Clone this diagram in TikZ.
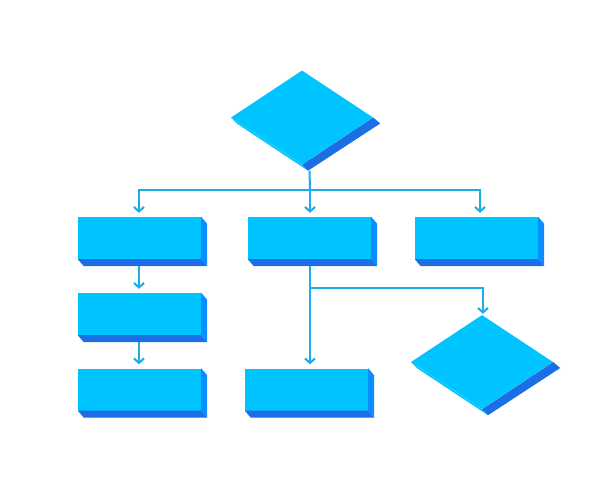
\documentclass[tikz,border=0pt]{standalone}
\usetikzlibrary{shapes.geometric,arrows.meta,calc}
\definecolor{topc}{HTML}{00C4FF}
\definecolor{sidec}{HTML}{0A8EFF}
\definecolor{botc}{HTML}{1C6EE4}
\definecolor{linec}{HTML}{19ACE6}
\begin{document}
\begin{tikzpicture}[x=1pt,y=-1pt,
  boxnode/.style={rectangle,fill=topc,draw=none,inner sep=0pt,minimum width=123pt,minimum height=42pt},
  decision/.style={diamond,fill=topc,draw=none,inner sep=0pt,aspect=1.5,minimum width=142pt,minimum height=94pt},
  conn/.style={draw=linec,line width=2pt},
  arr/.style={conn,-{Straight Barb[length=4.5pt,width=10pt]},shorten >=4pt}]
\useasboundingbox (0,0) rectangle (612,496);
\fill[white] (0,0) rectangle (612,496);
% nodes
\node[decision] (d1) at (302,117.5) {};
\node[decision] (d2) at (482,362) {};
\node[boxnode] (a1) at (139.5,238) {};
\node[boxnode] (b1) at (309.5,238) {};
\node[boxnode] (c1) at (476.5,238) {};
\node[boxnode] (a2) at (139.5,314) {};
\node[boxnode] (a3) at (139.5,389.5) {};
\node[boxnode] (b2) at (306.5,389.5) {};
% box extrusions
\foreach \n in {a1,b1,c1,a2,a3,b2}{
  \fill[sidec] (\n.north east) -- ++(6,7) -- ($(\n.south east)+(6,7)$) -- (\n.south east) -- cycle;
  \fill[botc] (\n.south west) -- ++(6,7) -- ($(\n.south east)+(6,7)$) -- (\n.south east) -- cycle;
}
% diamond extrusions
\foreach \n in {d1,d2}{
  \fill[topc] (\n.west) -- ++(6,6) -- ($(\n.south)+(6,6)$) -- (\n.south) -- cycle;
  \fill[botc] (\n.east) -- ++(7,6) -- ($(\n.south)+(6,6)$) -- (\n.south) -- cycle;
}
% connector points
\coordinate (d1b) at ($(d1.south)+(7.5,6)$);
\coordinate (j1) at (310,190);
\coordinate (j2) at (310,287.5);
% connectors
\draw[conn] (d1b) -- (j1);
\draw[arr] (j1) -| ([xshift=-0.5pt]a1.north);
\draw[arr] (j1) -- ([xshift=0.5pt]b1.north);
\draw[arr] (j1) -| ([xshift=3.5pt]c1.north);
\draw[arr] ([xshift=-0.5pt,yshift=-7pt]a1.south) -- ([xshift=-0.5pt]a2.north);
\draw[arr] ([xshift=-0.5pt,yshift=-7pt]a2.south) -- ([xshift=-0.5pt]a3.north);
\draw[arr] ([xshift=0.5pt,yshift=-7pt]b1.south) -- ([xshift=3.5pt]b2.north);
\draw[arr,shorten >=1pt] (j2) -| ([xshift=1pt]d2.north);
\end{tikzpicture}
\end{document}
